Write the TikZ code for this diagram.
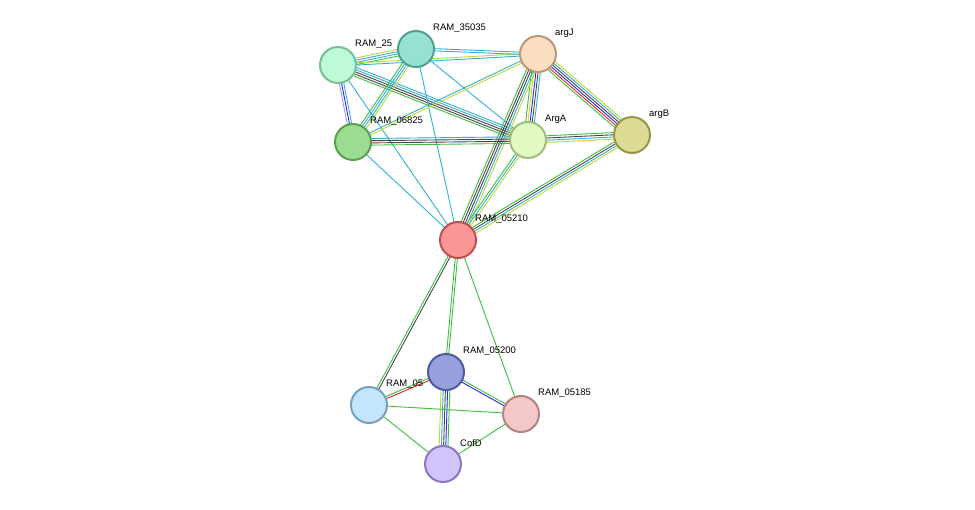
\documentclass[tikz,border=0pt]{standalone}
\usepackage{fontspec}
\setmainfont{Liberation Sans}
\usetikzlibrary{calc}
\definecolor{eg}{RGB}{60,190,60}
\definecolor{ec}{RGB}{50,175,210}
\definecolor{ey}{RGB}{190,215,50}
\definecolor{ek}{RGB}{70,70,70}
\definecolor{eb}{RGB}{40,40,230}
\definecolor{er}{RGB}{230,40,40}
\definecolor{ep}{RGB}{160,150,240}
\newcommand\ed[3]{%
  \def\ecount{0}\foreach \c in {#3}{\xdef\ecount{\the\numexpr\ecount+1}}%
  \path let \p1=($(#2)-(#1)$), \n1={atan2(\y1,\x1)} in \pgfextra{\xdef\eang{\n1}};
  \foreach \c [count=\i] in {#3}{%
    \draw[\c, line width=0.9pt] ($(#1)+(\eang+90:{(\i-(\ecount+1)/2)*2.2})$) -- ($(#2)+(\eang+90:{(\i-(\ecount+1)/2)*2.2})$);}%
}
\newcommand\prot[6]{% name, x, y, fill, border, label
  \definecolor{pf#1}{RGB}{#4}\definecolor{pd#1}{RGB}{#5}%
  \node[prot, fill=pf#1, draw=pd#1] (#1) at (#2,-#3) {};
  \node[lab, anchor=west] at (#2+17,-#3+21) {#6};
}
\begin{document}
\begin{tikzpicture}[x=1pt,y=1pt,
  prot/.style={circle, minimum size=36pt, line width=2pt, inner sep=0pt},
  lab/.style={font=\fontsize{9.5}{11}\selectfont, inner sep=0pt}]
\useasboundingbox (0,0) rectangle (975,-510);
\coordinate (a) at (338,-65);
\coordinate (b) at (416,-49);
\coordinate (c) at (538,-54);
\coordinate (d) at (353,-142);
\coordinate (e) at (528,-140);
\coordinate (f) at (632,-135);
\coordinate (g) at (458,-240);
\coordinate (h) at (446,-372);
\coordinate (i) at (369,-405);
\coordinate (j) at (521,-414);
\coordinate (k) at (443,-464);
\ed{a}{b}{eg,ec,ec,ey}
\ed{a}{c}{ec,ey}
\ed{b}{c}{ec,ec}
\ed{a}{d}{ep,eb,ec}
\ed{a}{e}{eg,ek,ek,ec,ec}
\ed{a}{g}{ec}
\ed{b}{d}{eg,ec,ec,ey}
\ed{b}{e}{ec}
\ed{b}{g}{ec}
\ed{c}{d}{ec,ey}
\ed{c}{e}{eg,ey,eb,ek,ec}
\ed{c}{f}{eg,er,eb,ek,ec,ey}
\ed{c}{g}{eg,ek,ek,ec,ey}
\ed{d}{e}{eg,ek,ek,ec}
\ed{d}{g}{ec}
\ed{e}{f}{ey,ec,ek,eg}
\ed{e}{g}{eg,ec,ey}
\ed{f}{g}{eg,ek,ec,ey}
\ed{g}{i}{eg,ek}
\ed{g}{h}{eg,eg}
\ed{g}{j}{eg}
\ed{h}{i}{eg,er}
\ed{h}{j}{eb,eg}
\ed{h}{k}{ey,ec,ek,eb,eg}
\ed{i}{j}{eg}
\ed{i}{k}{eg}
\ed{j}{k}{eg}
\prot{n1}{338}{65}{190,250,215}{120,190,150}{RAM\_25}
\prot{n2}{416}{49}{150,225,210}{80,160,145}{RAM\_35035}
\prot{n3}{538}{54}{250,222,192}{190,150,120}{argJ}
\prot{n4}{353}{142}{155,220,145}{90,160,80}{RAM\_06825}
\prot{n5}{528}{140}{225,250,195}{160,190,120}{ArgA}
\prot{n6}{632}{135}{220,220,150}{150,150,70}{argB}
\prot{n7}{458}{240}{250,150,150}{190,80,80}{RAM\_05210}
\prot{n9}{369}{405}{195,230,250}{120,160,190}{RAM\_05}
\prot{n8}{446}{372}{150,160,220}{80,90,160}{RAM\_05200}
\prot{n10}{521}{414}{245,200,200}{180,130,130}{RAM\_05185}
\prot{n11}{443}{464}{210,195,250}{140,120,190}{CofD}
\end{tikzpicture}
\end{document}
